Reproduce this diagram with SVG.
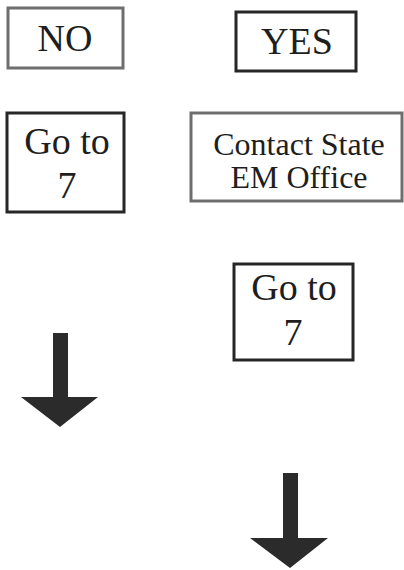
<svg xmlns="http://www.w3.org/2000/svg" width="404" height="570" viewBox="0 0 404 570">
<defs>
<style>
.box{fill:#fff;stroke-width:3}
.grey{stroke:#6e6e6e}
.dark{stroke:#262626}
text{fill:#1e1e1e;text-anchor:middle}
.big{font-size:38px}
.mid{font-size:32px}
.arrow{fill:#2b2b2b}
</style>
</defs>
<rect width="404" height="570" fill="#fff"/>
<g font-family="Liberation Serif, Times New Roman, DejaVu Serif, serif">
<g id="no">
<rect class="box grey" x="8" y="8" width="115" height="60"/>
<text class="big" x="65" y="51">NO</text>
</g>
<g id="yes">
<rect class="box dark" x="236" y="12" width="120" height="59"/>
<text class="big" x="297" y="54">YES</text>
</g>
<g id="goto-left">
<rect class="box dark" x="7" y="113" width="117" height="99"/>
<text class="big" x="67" y="154">Go to</text>
<text class="big" x="67" y="198">7</text>
</g>
<g id="contact">
<rect class="box grey" x="191" y="113" width="211" height="88" stroke-width="4"/>
<text class="mid" x="299" y="155">Contact State</text>
<text class="mid" x="299" y="188">EM Office</text>
</g>
<g id="goto-right">
<rect class="box dark" x="234" y="264" width="119" height="96"/>
<text class="big" x="294" y="300">Go to</text>
<text class="big" x="293" y="345">7</text>
</g>
</g>
<g id="connectors">
<path class="arrow" d="M53 333 H68 V397 H98 L60 427 L21 397 H53 Z"/>
<path class="arrow" d="M283 473 H298 V538 H328 L290 568 L250 538 H283 Z"/>
</g>
</svg>
